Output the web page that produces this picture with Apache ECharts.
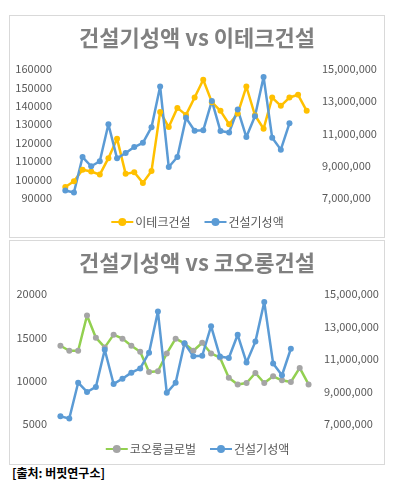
<!DOCTYPE html>
<html>
<head>
<meta charset="utf-8">
<script src="https://cdn.jsdelivr.net/npm/echarts@6/dist/echarts.min.js"></script>
<style>
  html, body { margin: 0; padding: 0; background: #fff; }
  body { width: 396px; height: 495px; position: relative; overflow: hidden; }
  .box { position: absolute; left: 9px; width: 376px; border: 1px solid #d9d9d9; box-sizing: border-box; }
  #top { top: 15px; height: 223px; }
  #bottom { top: 240px; height: 225px; }
  #source { position: absolute; left: 12px; top: 464px; font: bold 12px "Noto Sans CJK KR", sans-serif; color: #000; }
</style>
</head>
<body>
<div id="top" class="box"></div>
<div id="bottom" class="box"></div>
<div id="source">[출처: 버핏연구소]</div>
<script>
// 월별 데이터 (x축 라벨은 표시 안 됨)
var months = ['1', '2', '3', '4', '5', '6', '7', '8', '9', '10', '11', '12', '13', '14', '15',
  '16', '17', '18', '19', '20', '21', '22', '23', '24', '25', '26', '27', '28', '29']

// 건설기성액 (오른쪽 축)
var construction = [7470000, 7340000, 9540000, 8970000, 9280000, 11570000, 9460000, 9790000,
  10160000, 10420000, 11390000, 13920000, 8920000, 9540000, 11970000, 11170000, 11200000,
  13020000, 11150000, 11060000, 12490000, 10780000, 12070000, 14510000, 10730000, 10000000,
  11630000]

// 이테크건설 주가 (왼쪽 축)
var etec = [96000, 99100, 105300, 104400, 102700, 111600, 122200, 103100, 104000, 98200,
  104700, 136700, 128500, 138900, 135100, 144500, 154200, 142000, 137300, 130000, 135800,
  150500, 134900, 127600, 144500, 140000, 144500, 146000, 137300]

// 코오롱글로벌 주가 (왼쪽 축)
var kolon = [14030, 13450, 13450, 17520, 14960, 13840, 15310, 14850, 14030, 13330, 11010,
  11090, 13140, 14850, 14300, 13450, 14380, 13140, 12670, 10350, 9570, 9730, 10890, 9730,
  10500, 10040, 9850, 11470, 9570]

var FONT = '"Noto Sans CJK KR", sans-serif'

function commas(v) {
  return String(v).replace(/\B(?=(\d{3})+(?!\d))/g, ',')
}

function buildOption(cfg) {
  return {
    animation: false,
    title: {
      text: cfg.title,
      left: 'center',
      top: 11,
      padding: 0,
      textStyle: { color: '#808080', fontSize: 22, fontWeight: 'bold', fontFamily: FONT }
    },
    legend: {
      top: cfg.legendTop,
      left: 'center',
      padding: 0,
      itemWidth: 22,
      itemHeight: 10,
      itemGap: 13,
      textStyle: { color: '#595959', fontSize: 12, fontFamily: FONT, padding: [0, 0, 0, -3] },
      data: [cfg.stockName, '건설기성액']
    },
    grid: cfg.grid,
    xAxis: {
      type: 'category',
      show: false,
      boundaryGap: true,
      data: months
    },
    yAxis: [{
      type: 'value',
      min: cfg.leftMin,
      max: cfg.leftMax,
      interval: cfg.leftStep,
      axisLine: { show: false },
      axisTick: { show: false },
      splitLine: { show: false },
      axisLabel: {
        color: '#595959',
        fontSize: 11,
        fontFamily: FONT,
        margin: 9,
        formatter: function (v) { return String(v) }
      }
    }, {
      type: 'value',
      min: 7000000,
      max: 15000000,
      interval: 2000000,
      axisLine: { show: false },
      axisTick: { show: false },
      splitLine: { show: false },
      axisLabel: {
        color: '#595959',
        fontSize: 11,
        fontFamily: FONT,
        margin: 11,
        formatter: commas
      }
    }],
    series: [{
      name: cfg.stockName,
      type: 'line',
      yAxisIndex: 0,
      data: cfg.stock,
      symbol: 'circle',
      symbolSize: 6,
      showAllSymbol: true,
      lineStyle: { color: cfg.lineColor, width: 2.5 },
      itemStyle: { color: cfg.markerColor }
    }, {
      name: '건설기성액',
      type: 'line',
      yAxisIndex: 1,
      data: construction,
      symbol: 'circle',
      symbolSize: 6,
      showAllSymbol: true,
      lineStyle: { color: '#5B9BD5', width: 2.5 },
      itemStyle: { color: '#5B9BD5' }
    }]
  }
}

var topChart = echarts.init(document.getElementById('top'))
topChart.setOption(buildOption({
  title: '건설기성액 vs 이테크건설',
  stockName: '이테크건설',
  stock: etec,
  lineColor: '#FFC000',
  markerColor: '#FFC000',
  leftMin: 90000,
  leftMax: 160000,
  leftStep: 10000,
  legendTop: 200,
  grid: { left: 51, right: 73, top: 53, bottom: 39 }
}))

var bottomChart = echarts.init(document.getElementById('bottom'))
bottomChart.setOption(buildOption({
  title: '건설기성액 vs 코오롱건설',
  stockName: '코오롱글로벌',
  stock: kolon,
  lineColor: '#92D050',
  markerColor: '#A5A5A5',
  leftMin: 5000,
  leftMax: 20000,
  leftStep: 5000,
  legendTop: 202,
  grid: { left: 46, right: 71, top: 53, bottom: 40 }
}))
</script>
</body>
</html>
